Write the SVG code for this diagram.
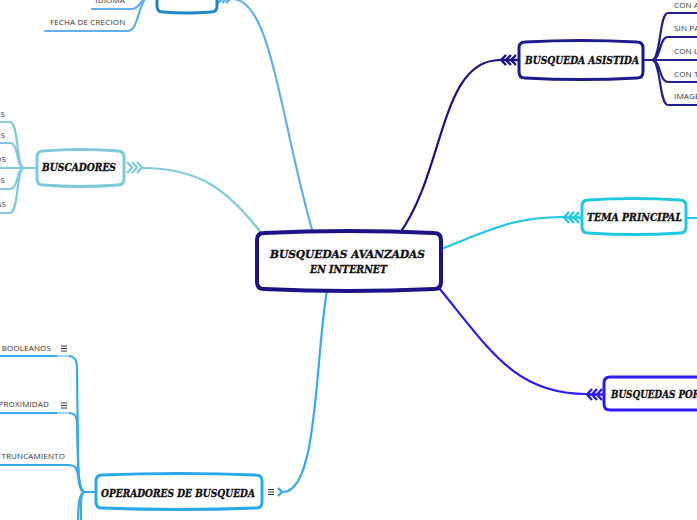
<svg xmlns="http://www.w3.org/2000/svg" width="697" height="520" viewBox="0 0 697 520">
<defs>
<style>
.bx{fill:#fff;stroke-width:3}
.t{font-family:"DejaVu Serif","Liberation Serif",serif;font-weight:bold;font-style:italic;fill:#111;stroke:#111;stroke-width:0.35;font-size:11px}
.c{font-family:"Open Sans","Liberation Sans",sans-serif;font-size:8px;fill:#333;letter-spacing:0.15px}
.ln{fill:none;stroke-width:2.2;stroke-linecap:round}
.ch{fill:none;stroke-width:2.4;stroke-linejoin:miter}
</style>
</defs>
<rect width="697" height="520" fill="#fff"/>

<g id="connectors">
  <path class="ln" stroke="#64aef0" d="M232,-1 C272,-1 280,120 313,233"/>
  <g class="ch" stroke="#64aef0"><path d="M218,-5 L222,-1 L218,3 M222,-5 L226,-1 L222,3 M226,-5 L230,-1 L226,3"/></g>
  <path class="ln" stroke="#82c9d9" d="M142,168 C200,168 228,190 262,234"/>
  <g class="ch" stroke="#82c9d9"><path d="M127,162 L132,167.5 L127,173 M132,162 L137,167.5 L132,173 M137,162 L142,167.5 L137,173"/></g>
  <path class="ln" stroke="#1a1285" d="M400,233 C445,170 440,60 500,60"/>
  <g class="ch" stroke="#1a1285"><path d="M506,55 L501,60 L506,65 M511,55 L506,60 L511,65 M516,55 L511,60 L516,65 M501,60 L518,60"/></g>
  <path class="ln" stroke="#1ec8e2" d="M441,249 C495,228 515,217 563,217"/>
  <g class="ch" stroke="#1ec8e2"><path d="M569,212 L564,217.5 L569,223 M574,212 L569,217.5 L574,223 M579,212 L574,217.5 L579,223 M564,217.5 L581,217.5"/></g>
  <path class="ln" stroke="#1ec8e2" stroke-width="3" d="M687,218 L697,218"/>
  <path class="ln" stroke="#2a1cee" d="M439,288 C490,350 515,394 586,394"/>
  <g class="ch" stroke="#2a1cee"><path d="M592,389 L587,394.5 L592,400 M597,389 L592,394.5 L597,400 M602,389 L597,394.5 L602,400 M587,394.5 L603,394.5"/></g>
  <path class="ln" stroke="#35aaee" d="M283,492 C318,492 315,360 327,290"/>
  <path class="ch" stroke="#35aaee" d="M278,488 L282,492 L278,496"/>
  <g stroke="#333" stroke-width="1"><path d="M268,489.5 H274 M268,492 H274 M268,494.5 H274"/></g>

  <g class="ln" stroke="#64aef0">
    <path d="M92,9 L132,9 C141,9 141,-4 150,-4 L157,-4"/>
    <path d="M45,31 L128,31 C139,31 139,-4 150,-4"/>
  </g>
  <g class="ln" stroke="#82c9d9">
    <path d="M37,168 L24,168 C16,168 19,122 10,122 L0,122"/>
    <path d="M37,168 L24,168 C16,168 19,143 10,143 L0,143"/>
    <path d="M37,168 L0,168"/>
    <path d="M37,168 L24,168 C16,168 19,189 10,189 L0,189"/>
    <path d="M37,168 L24,168 C16,168 19,213 10,213 L0,213"/>
  </g>
  <g class="ln" stroke="#22208f">
    <path d="M643,60 L652,60 C661,60 659,13 668,13 L697,13"/>
    <path d="M643,60 L652,60 C661,60 659,37 668,37 L697,37"/>
    <path d="M643,60 L697,60"/>
    <path d="M643,60 L652,60 C661,60 659,82 668,82 L697,82"/>
    <path d="M643,60 L652,60 C661,60 659,105 668,105 L697,105"/>
  </g>
  <g class="ln" stroke="#35aaee">
    <path d="M95,492 L85,492 C79,492 78,475 78,450 L77,372 C77,361 76,356 68,356 L0,356"/>
    <path d="M95,492 L85,492 C79,492 78,478 78,460 L77,425 C77,417 76,413 68,413 L0,413"/>
    <path d="M95,492 L85,492 C79,492 79,480 78,475 C77,469 76,465 68,465 L0,465"/>
    <path d="M95,492 L85,492 C79,492 78,505 78,525"/>
    <path d="M95,492 L85,492 C80,492 81,505 81,525"/>
  </g>
  <g stroke="#9fd5f5" stroke-width="2"><path d="M57,356 H69 M57,413 H69"/></g>
  <g stroke="#333" stroke-width="1"><path d="M61,346 H67 M61,348.5 H67 M61,351 H67 M61,403 H67 M61,405.5 H67 M61,408 H67"/></g>
</g>

<g id="node-center">
  <path d="M257,240 Q257,233 264,233 Q348,229 434,233 Q441,233 441,240 L441,282 Q441,289 434,289 Q348,293 264,289 Q257,289 257,282 Z" fill="#fff" stroke="#1d1287" stroke-width="4"/>
  <text class="t" font-size="12" x="270" y="258" textLength="155" lengthAdjust="spacingAndGlyphs">BUSQUEDAS AVANZADAS</text>
  <text class="t" font-size="12" x="310" y="273" textLength="77" lengthAdjust="spacingAndGlyphs">EN INTERNET</text>
</g>

<g id="node-top">
  <path class="bx" stroke="#1f86c8" d="M157,-30 L157,6 Q157,12 163,12 Q187,14 211,12 Q217,12 217,6 L217,-30"/>
</g>
<g id="child-idioma"><text class="c" x="125" y="3" text-anchor="end">IDIOMA</text></g>
<g id="child-fecha"><text class="c" x="50" y="25">FECHA DE CRECION</text></g>

<g id="node-buscadores">
  <path class="bx" stroke="#7ecad9" d="M37,157 Q37,151 43,151 Q80,148 118,151 Q124,151 124,157 L124,179 Q124,185 118,185 Q80,188 43,185 Q37,185 37,179 Z"/>
  <text class="t" x="42" y="171" textLength="74" lengthAdjust="spacingAndGlyphs">BUSCADORES</text>
</g>
<g id="buscadores-children" class="c">
  <text x="5" y="117" text-anchor="end">S</text>
  <text x="5" y="138" text-anchor="end">S</text>
  <text x="6" y="162" text-anchor="end">OS</text>
  <text x="5" y="183" text-anchor="end">S</text>
  <text x="6" y="207" text-anchor="end">SS</text>
</g>

<g id="node-asistida">
  <path class="bx" stroke="#1c1a8c" d="M519,48 Q519,42 525,42 Q581,39 637,42 Q643,42 643,48 L643,72 Q643,78 637,78 Q581,81 525,78 Q519,78 519,72 Z"/>
  <text class="t" x="525" y="64" textLength="114" lengthAdjust="spacingAndGlyphs">BUSQUEDA ASISTIDA</text>
</g>
<g id="asistida-children" class="c">
  <text x="674" y="8">CON A</text>
  <text x="674" y="31">SIN PA</text>
  <text x="674" y="54">CON L</text>
  <text x="674" y="77">CON T</text>
  <text x="674" y="99">IMAGE</text>
</g>

<g id="node-tema">
  <path class="bx" stroke="#1ec8e2" d="M582,206 Q582,200 588,200 Q634,197 680,200 Q686,200 686,206 L686,227 Q686,233 680,233 Q634,236 588,233 Q582,233 582,227 Z"/>
  <text class="t" x="587" y="221" textLength="95" lengthAdjust="spacingAndGlyphs">TEMA PRINCIPAL</text>
</g>

<g id="node-por">
  <path class="bx" stroke="#2a1cee" d="M720,377 L610,377 Q604,377 604,383 L604,404 Q604,410 610,410 L720,410"/>
  <text class="t" x="611" y="398" textLength="89" lengthAdjust="spacingAndGlyphs">BUSQUEDAS POR</text>
</g>

<g id="node-operadores">
  <path class="bx" stroke="#2aa8ec" d="M96,481 Q96,475 102,475 Q179,472 256,475 Q262,475 262,481 L262,502 Q262,508 256,508 Q179,511 102,508 Q96,508 96,502 Z"/>
  <text class="t" x="101" y="497" textLength="154" lengthAdjust="spacingAndGlyphs">OPERADORES DE BUSQUEDA</text>
</g>
<g id="operadores-children" class="c">
  <text x="51" y="351" text-anchor="end">BOOLEANOS</text>
  <text x="49" y="407" text-anchor="end">PROXIMIDAD</text>
  <text x="65" y="459" text-anchor="end">TRUNCAMIENTO</text>
</g>
</svg>
